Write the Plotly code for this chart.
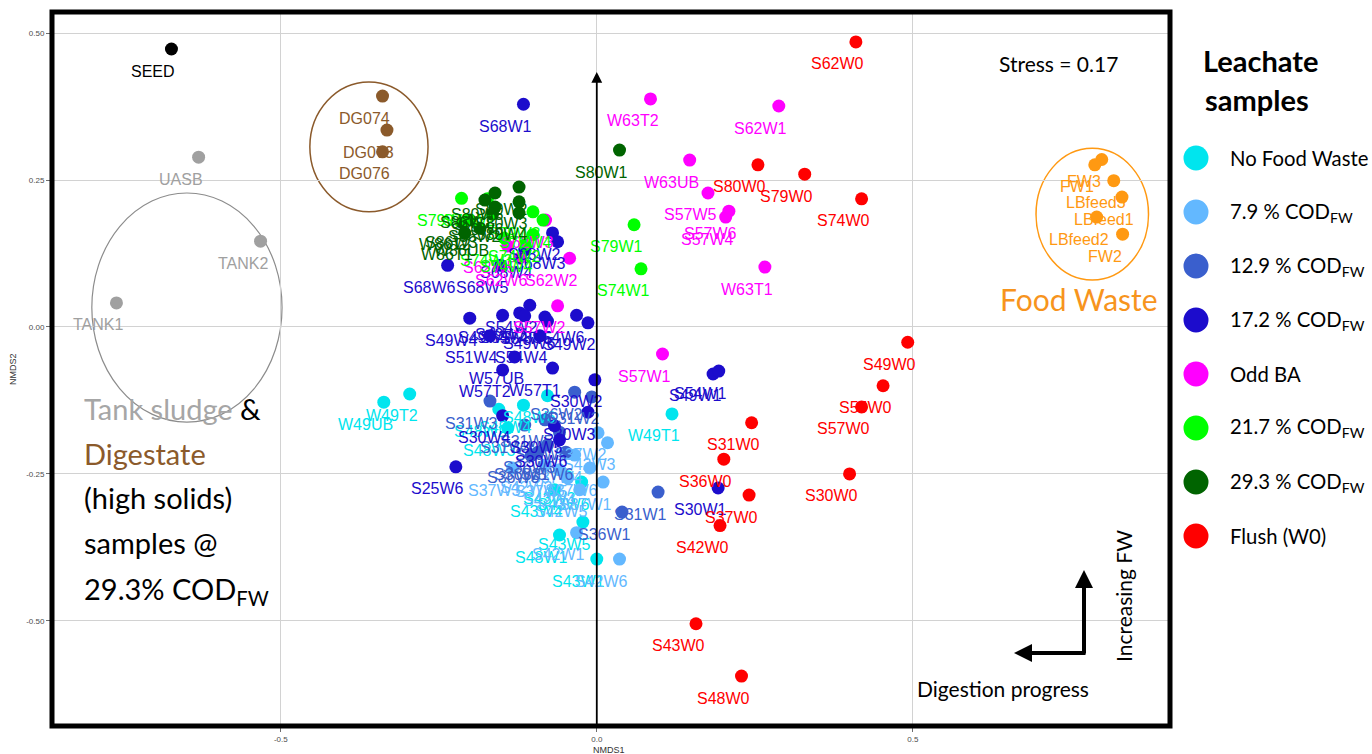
import plotly.graph_objects as go

W, H = 1372, 754

# ---- NMDS site scores, one set of lists per sample group ----
seed_names = ["SEED"]
seed_x = [-0.673]
seed_y = [0.473]

tank_names = ["UASB", "TANK2", "TANK1"]
tank_x = [-0.630, -0.532, -0.760]
tank_y = [0.289, 0.146, 0.041]

dig_names = ["DG074", "DG073", "DG076"]
dig_x = [-0.339, -0.332, -0.339]
dig_y = [0.393, 0.335, 0.298]

fw_names = ["FW3", "FW1", "LBfeed3", "LBfeed1", "LBfeed2", "FW2"]
fw_x = [0.799, 0.788, 0.818, 0.831, 0.791, 0.832]
fw_y = [0.285, 0.276, 0.249, 0.221, 0.187, 0.158]

nofw_names = ["W49T2", "W49UB", "W49T1", "S48W2", "S48W6", "S48W3", "S48W4",
              "S43W3", "S43W6", "S43W4", "S43W5", "S48W1", "S43W1"]
nofw_x = [-0.296, -0.337, 0.119, -0.155, -0.078, -0.141, -0.116,
          -0.046, -0.024, -0.067, -0.022, -0.059, 0.000]
nofw_y = [-0.114, -0.128, -0.148, -0.140, -0.117, -0.172, -0.133,
          -0.255, -0.264, -0.277, -0.332, -0.354, -0.395]

c79_names = ["S37W1", "S42W6", "S42W1", "S37W3", "S37W2", "S42W3", "S37W4",
             "S37W5", "S37W6", "S42W2", "S42W4", "S42W5"]
c79_x = [0.010, 0.036, -0.032, -0.133, 0.002, 0.017, -0.035,
         -0.059, -0.011, -0.082, -0.046, -0.027]
c79_y = [-0.264, -0.395, -0.350, -0.240, -0.180, -0.197, -0.218,
         -0.243, -0.240, -0.235, -0.257, -0.277]

c129_names = ["S31W3", "S31W2", "S36W2", "S31W1", "S36W1", "S36W6", "S31W5",
              "S36W4", "S36W3", "S36W5", "S31W6", "S31W4"]
c129_x = [-0.169, -0.008, -0.035, 0.097, 0.040, -0.104, -0.082,
          -0.059, -0.078, -0.093, -0.049, -0.114]
c129_y = [-0.126, -0.119, -0.111, -0.281, -0.315, -0.219, -0.158,
          -0.179, -0.201, -0.213, -0.213, -0.167]

c172_names = ["S68W1", "S68W2", "S68W3", "S68W4", "S68W6", "S68W5",
              "S49W5", "S49W3", "S54W2", "S54W3", "S54W5", "S49W6", "S54W6",
              "S49W2", "S49W4", "S54W4", "S51W4", "W57UB", "W57T2", "W57T1",
              "S30W2", "S30W3", "S30W4", "S30W5", "S30W6", "S25W6", "S30W1",
              "S49W1", "S54W1"]
c172_x = [-0.116, -0.070, -0.062, -0.114, -0.236, -0.152,
          -0.149, -0.122, -0.106, -0.114, -0.082, -0.078, -0.032,
          -0.014, -0.201, -0.090, -0.169, -0.130, -0.149, -0.070,
          -0.003, -0.014, -0.149, -0.067, -0.059, -0.223, 0.192,
          0.184, 0.193]
c172_y = [0.379, 0.160, 0.145, 0.131, 0.105, 0.105,
          0.020, 0.024, 0.037, 0.019, 0.017, 0.010, 0.020,
          0.007, 0.015, -0.015, -0.015, -0.051, -0.073, -0.070,
          -0.090, -0.145, -0.151, -0.168, -0.192, -0.238, -0.274,
          -0.080, -0.075]

odd_names = ["W63T2", "S62W1", "W63UB", "S57W5", "S57W6", "S57W4", "W63T1",
             "S57W1", "S62W2", "S62W6", "S62W5", "S62W3", "S57W2"]
odd_x = [0.085, 0.288, 0.147, 0.176, 0.209, 0.204, 0.266,
         0.104, -0.043, -0.122, -0.141, -0.081, -0.062]
odd_y = [0.388, 0.376, 0.284, 0.228, 0.197, 0.187, 0.102,
         -0.046, 0.117, 0.117, 0.138, 0.182, 0.036]

c217_names = ["S79W1", "S74W1", "S79W2", "S79W3", "S79W4", "S74W2", "S74W3",
              "S74W4", "S79W6"]
c217_x = [0.059, 0.070, -0.173, -0.101, -0.085, -0.101, -0.146, -0.114, -0.214]
c217_y = [0.174, 0.099, 0.218, 0.196, 0.182, 0.157, 0.151, 0.140, 0.219]

c293_names = ["S80W1", "S80W5", "S80W2", "S80W6", "S80W3", "S80W4", "S86W2",
              "S86W3", "W86T2", "W86T1", "W86UB", "S86W1"]
c293_x = [0.036, -0.161, -0.123, -0.161, -0.123, -0.123, -0.165,
          -0.201, -0.212, -0.209, -0.185, -0.177]
c293_y = [0.301, 0.228, 0.238, 0.204, 0.213, 0.194, 0.192,
          0.182, 0.177, 0.160, 0.168, 0.216]

flush_names = ["S62W0", "S80W0", "S79W0", "S74W0", "S49W0", "S55W0", "S57W0",
               "S31W0", "S36W0", "S30W0", "S37W0", "S42W0", "S43W0", "S48W0"]
flush_x = [0.410, 0.255, 0.329, 0.419, 0.492, 0.453, 0.419,
           0.245, 0.201, 0.400, 0.241, 0.195, 0.157, 0.229]
flush_y = [0.485, 0.276, 0.260, 0.218, -0.026, -0.100, -0.136,
           -0.163, -0.225, -0.250, -0.286, -0.338, -0.505, -0.594]

# legend entries for the leachate groups
legend_labels = ["No Food Waste", "7.9 % COD<sub>FW</sub>", "12.9 % COD<sub>FW</sub>",
                 "17.2 % COD<sub>FW</sub>", "Odd BA", "21.7 % COD<sub>FW</sub>",
                 "29.3 % COD<sub>FW</sub>", "Flush (W0)"]
legend_colors = ["#00e5ee", "#63b8ff", "#3a5fcd", "#1c0ccc", "#ff00ff",
                 "#00ff00", "#006400", "#ff0000"]

GRAY, BROWN, ORANGE = "#a0a0a0", "#8b5a2b", "#ff9912"

groups = [
    (nofw_names, nofw_x, nofw_y, legend_colors[0]),
    (c79_names, c79_x, c79_y, legend_colors[1]),
    (c129_names, c129_x, c129_y, legend_colors[2]),
    (c172_names, c172_x, c172_y, legend_colors[3]),
    (odd_names, odd_x, odd_y, legend_colors[4]),
    (c217_names, c217_x, c217_y, legend_colors[5]),
    (c293_names, c293_x, c293_y, legend_colors[6]),
    (flush_names, flush_x, flush_y, legend_colors[7]),
    (tank_names, tank_x, tank_y, GRAY),
    (dig_names, dig_x, dig_y, BROWN),
    (fw_names, fw_x, fw_y, ORANGE),
    (seed_names, seed_x, seed_y, "#000000"),
]

LABEL_FONT = "Liberation Sans, Arial, sans-serif"
TEXT_FONT = "Lato, Open Sans, sans-serif"


def px(x):
    return x / W


def py(y):
    return 1 - y / H


def note(x, y, text, size, color="#000000", xanchor="center", angle=0, family=TEXT_FONT):
    """Free text placed in figure pixel coordinates."""
    return dict(x=px(x), y=py(y), xref="paper", yref="paper", text=text,
                xanchor=xanchor, yanchor="middle", showarrow=False, textangle=angle,
                font=dict(family=family, size=size, color=color))


fig = go.Figure()
annotations = []
for names, xs, ys, color in groups:
    fig.add_trace(go.Scatter(
        x=xs, y=ys, mode="markers", text=names, hoverinfo="text",
        marker=dict(size=13, color=color, line=dict(width=0)),
        showlegend=False,
    ))
    for n, x, y in zip(names, xs, ys):
        annotations.append(dict(
            x=x, y=y, xref="x", yref="y", text=n, showarrow=False,
            xanchor="center", yanchor="middle", xshift=-18, yshift=-22,
            font=dict(family=LABEL_FONT, size=16, color=color),
        ))

# vertical guide arrow along NMDS1 = 0
annotations.append(dict(
    x=0, y=0.434, xref="x", yref="y", ax=0, ay=-0.679, axref="x", ayref="y",
    showarrow=True, arrowhead=2, arrowsize=1.2, arrowwidth=1.8, arrowcolor="#000000",
    text="",
))

# direction arrows in the lower right
annotations.append(dict(
    x=px(1084), y=py(570), xref="paper", yref="paper", ax=0, ay=85,
    showarrow=True, arrowhead=2, arrowsize=0.9, arrowwidth=4, arrowcolor="#000000",
    text="",
))
annotations.append(dict(
    x=px(1014), y=py(653), xref="paper", yref="paper", ax=73, ay=0,
    showarrow=True, arrowhead=2, arrowsize=0.9, arrowwidth=4, arrowcolor="#000000",
    text="",
))
annotations.append(note(1003, 688, "Digestion progress", 21))
annotations.append(note(1123, 596, "Increasing FW", 21, angle=-90))

annotations.append(note(1058, 63, "Stress = 0.17", 21))
annotations.append(note(1079, 299, "Food Waste", 30, color="#f7941d"))

# left-hand description block
left_lines = [
    ("<span style='color:#a6a6a6'>Tank sludge</span> &", 408),
    ("<span style='color:#8b5a2b'>Digestate</span>", 453),
    ("(high solids)", 497),
    ("samples @", 542),
    ("29.3% COD<sub>FW</sub>", 590),
]
for txt, yy in left_lines:
    annotations.append(note(82, yy, txt, 29, xanchor="left"))

# legend
annotations.append(note(1261, 61, "<b>Leachate</b>", 29))
annotations.append(note(1257, 100, "<b>samples</b>", 29))
shapes = []
for i, (lab, col) in enumerate(zip(legend_labels, legend_colors)):
    yy = 158 + i * 54
    shapes.append(dict(
        type="circle", xref="paper", yref="paper", xsizemode="pixel", ysizemode="pixel",
        xanchor=px(1196), yanchor=py(yy), x0=-12.5, x1=12.5, y0=-12.5, y1=12.5,
        fillcolor=col, line=dict(width=0),
    ))
    annotations.append(note(1228, yy, lab, 20.3, xanchor="left"))

# axis titles
annotations.append(note(609, 750, "NMDS1", 9, color="#333333", family=LABEL_FONT))
annotations.append(note(13, 369, "NMDS2", 9, color="#333333", angle=-90, family=LABEL_FONT))

# group ellipses
shapes.append(dict(type="circle", xref="x", yref="y", x0=-0.799, x1=-0.498,
                   y0=-0.162, y1=0.228, line=dict(color="#8c8c8c", width=1.2), layer="below"))
shapes.append(dict(type="circle", xref="x", yref="y", x0=-0.454, x1=-0.267,
                   y0=0.196, y1=0.417, line=dict(color=BROWN, width=1.5), layer="below"))
shapes.append(dict(type="circle", xref="x", yref="y", x0=0.695, x1=0.873,
                   y0=0.080, y1=0.304, line=dict(color=ORANGE, width=1.5), layer="below"))

# heavy panel border
shapes.append(dict(type="rect", xref="paper", yref="paper", x0=px(52), x1=px(1170),
                   y0=py(726), y1=py(12), line=dict(color="#000000", width=5), layer="above"))

axis_common = dict(
    showgrid=True, gridcolor="#d2d2d2", gridwidth=1.3, zeroline=False,
    ticks="outside", ticklen=5, tickcolor="#6e6e6e", tickwidth=1,
    tickfont=dict(family=LABEL_FONT, size=8, color="#4d4d4d"),
    showline=False, automargin=False,
)

fig.update_layout(
    width=W, height=H,
    margin=dict(l=0, r=0, t=0, b=0),
    paper_bgcolor="#ffffff", plot_bgcolor="#ffffff",
    showlegend=False,
    xaxis=dict(domain=[52 / W, 1170 / W], range=[-0.862, 0.907],
               tickvals=[-0.5, 0, 0.5], ticktext=["-0.5", "0.0", "0.5"], **axis_common),
    yaxis=dict(domain=[1 - 726 / H, 1 - 12 / H], range=[-0.679, 0.536],
               tickvals=[-0.5, -0.25, 0, 0.25, 0.5],
               ticktext=["-0.50", "-0.25", "0.00", "0.25", "0.50"], **axis_common),
    annotations=annotations,
    shapes=shapes,
)

fig.write_html("out.html")
